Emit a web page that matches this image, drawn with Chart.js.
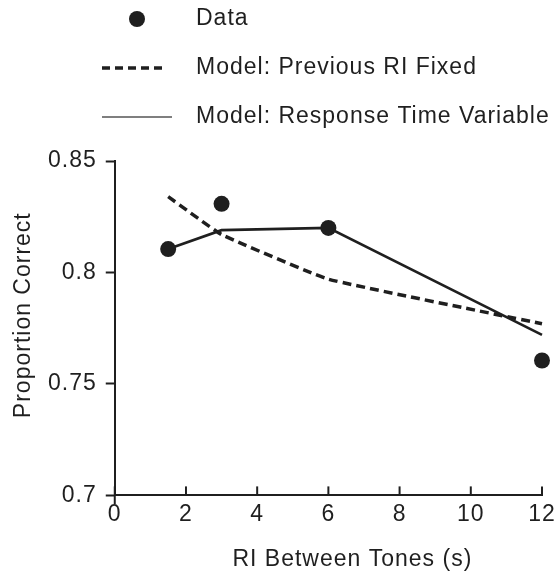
<!DOCTYPE html>
<html>
<head>
<meta charset="utf-8">
<script src="https://cdn.jsdelivr.net/npm/chart.js@4.4.1/dist/chart.umd.min.js"></script>
<style>
    html, body { margin: 0; padding: 0; background: #fff; }
    #wrap { width: 556px; height: 575px; position: relative; }
</style>
</head>
<body>
<div id="wrap"><canvas id="mainChart"></canvas></div>
<script>
// Data
const riSeconds = [1.5, 3, 6, 12];
const dataValues = [0.8105, 0.8308, 0.820, 0.7605];
const fixedModel = [0.834, 0.817, 0.797, 0.777];
const variableModel = [0.8105, 0.819, 0.820, 0.772];

const xTicks = [0, 2, 4, 6, 8, 10, 12];
const yTicks = [0.7, 0.75, 0.8, 0.85];

const legendLabels = ['Data', 'Model: Previous RI Fixed', 'Model: Response Time Variable'];
const xTitle = 'RI Between Tones (s)';
const yTitle = 'Proportion Correct';

const ink = '#1f1f1f';
const fontFamily = "'Liberation Sans', Arial, Helvetica, sans-serif";
const fontSize = 23;
const spacing = '1px';

// Wide-set lettering like the printed figure
const letterSpacingPlugin = {
    id: 'letterSpacing',
    beforeLayout(chart) { chart.ctx.letterSpacing = spacing; },
    beforeDraw(chart) { chart.ctx.letterSpacing = spacing; }
};

// Inward x ticks, axis titles and the stacked legend at the top
const decorPlugin = {
    id: 'decor',
    afterDraw(chart) {
        const ctx = chart.ctx;
        const area = chart.chartArea;
        const xs = chart.scales.x;
        ctx.save();
        ctx.strokeStyle = ink;
        ctx.fillStyle = ink;
        ctx.lineWidth = 2;

        // x ticks pointing up into the plot
        xs.ticks.forEach((t, i) => {
            const px = xs.getPixelForTick(i);
            ctx.beginPath();
            ctx.moveTo(px, area.bottom);
            ctx.lineTo(px, area.bottom - 9);
            ctx.stroke();
        });
        // y axis runs a little past the x axis
        ctx.beginPath();
        ctx.moveTo(area.left, area.bottom);
        ctx.lineTo(area.left, area.bottom + 9);
        ctx.stroke();

        ctx.letterSpacing = spacing;
        ctx.font = fontSize + 'px ' + fontFamily;
        ctx.textBaseline = 'middle';

        // axis titles
        ctx.textAlign = 'center';
        ctx.fillText(xTitle, (area.left + area.right) / 2 + 24, 560);
        ctx.save();
        ctx.translate(24, (area.top + area.bottom) / 2 - 13);
        ctx.rotate(-Math.PI / 2);
        ctx.fillText(yTitle, 0, 0);
        ctx.restore();

        // legend
        const ds = chart.data.datasets;
        const textX = 196;
        const rows = [19, 68, 117];
        ctx.textAlign = 'left';

        ctx.beginPath();
        ctx.arc(137, rows[0], ds[0].pointRadius, 0, Math.PI * 2);
        ctx.fill();

        ctx.lineWidth = ds[1].borderWidth;
        ctx.setLineDash([8, 5]);
        ctx.beginPath();
        ctx.moveTo(102, rows[1]);
        ctx.lineTo(165, rows[1]);
        ctx.stroke();

        ctx.setLineDash([]);
        ctx.strokeStyle = '#555';
        ctx.lineWidth = 1.5;
        ctx.beginPath();
        ctx.moveTo(102, rows[2]);
        ctx.lineTo(172, rows[2]);
        ctx.stroke();

        legendLabels.forEach((label, i) => ctx.fillText(label, textX, rows[i]));
        ctx.restore();
    }
};

const ctxMain = document.getElementById('mainChart');
new Chart(ctxMain.getContext('2d'), {
    type: 'scatter',
    data: {
        datasets: [
            {
                label: legendLabels[0],
                data: riSeconds.map((x, i) => ({ x: x, y: dataValues[i] })),
                backgroundColor: ink,
                borderWidth: 0,
                pointRadius: 8,
                showLine: false,
                clip: false,
                order: 0
            },
            {
                label: legendLabels[1],
                data: riSeconds.map((x, i) => ({ x: x, y: fixedModel[i] })),
                borderColor: ink,
                borderWidth: 3.5,
                borderDash: [9, 5],
                pointRadius: 0,
                showLine: true,
                tension: 0.1,
                clip: false,
                order: 2
            },
            {
                label: legendLabels[2],
                data: riSeconds.map((x, i) => ({ x: x, y: variableModel[i] })),
                borderColor: ink,
                borderWidth: 2.7,
                pointRadius: 0,
                showLine: true,
                tension: 0,
                clip: false,
                order: 1
            }
        ]
    },
    options: {
        responsive: true,
        maintainAspectRatio: false,
        animation: false,
        layout: {
            padding: { top: 161, left: 39, right: 14, bottom: 42 }
        },
        plugins: {
            legend: { display: false },
            tooltip: { enabled: false }
        },
        scales: {
            x: {
                type: 'linear',
                min: 0,
                max: 12,
                afterBuildTicks: s => { s.ticks = xTicks.map(v => ({ value: v })); },
                afterFit: s => { s.paddingRight = 0; s.paddingLeft = 0; },
                ticks: {
                    color: ink,
                    padding: 5,
                    maxRotation: 0,
                    font: { family: fontFamily, size: fontSize }
                },
                grid: { display: false, drawTicks: false },
                border: { display: true, color: ink, width: 2 }
            },
            y: {
                type: 'linear',
                min: 0.7,
                max: 0.85,
                afterBuildTicks: s => { s.ticks = yTicks.map(v => ({ value: v })); },
                ticks: {
                    color: ink,
                    padding: 9,
                    font: { family: fontFamily, size: fontSize },
                    callback: v => String(+v.toFixed(2))
                },
                grid: {
                    display: true,
                    drawOnChartArea: false,
                    drawTicks: true,
                    tickLength: 9,
                    tickWidth: 2,
                    color: ink
                },
                border: { display: true, color: ink, width: 2 }
            }
        }
    },
    plugins: [letterSpacingPlugin, decorPlugin]
});
</script>
</body>
</html>
